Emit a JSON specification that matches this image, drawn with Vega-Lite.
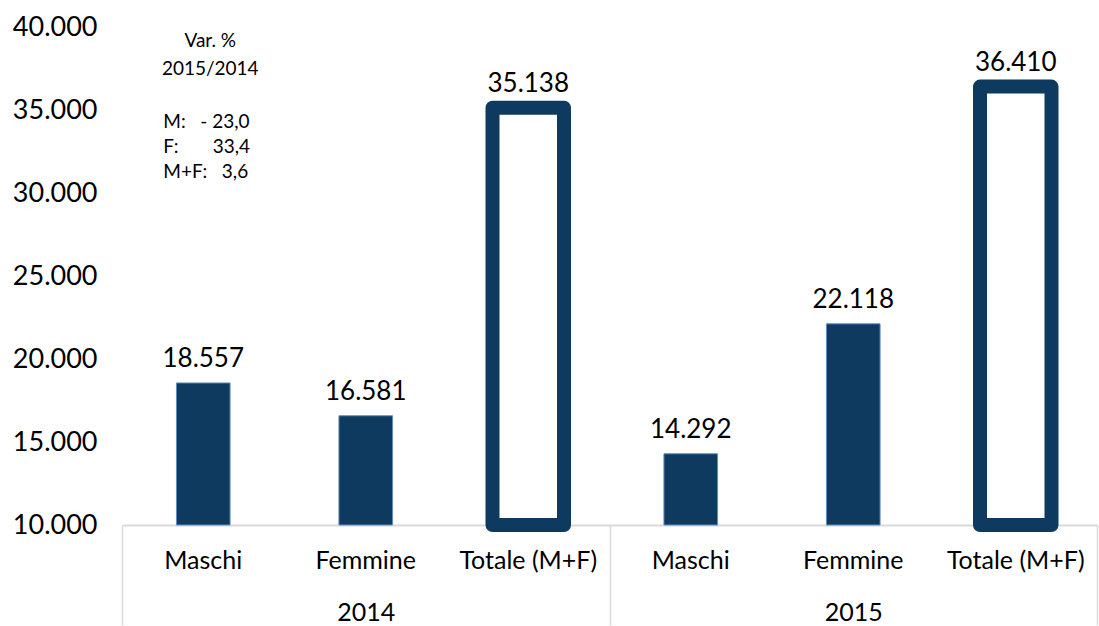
{
  "$schema": "https://vega.github.io/schema/vega-lite/v6.json",
  "width": 975,
  "height": 498,
  "autosize": "none",
  "padding": {"left": 122, "top": 27, "right": 2, "bottom": 101},
  "background": "white",
  "config": {
    "view": {"stroke": null},
    "font": "Lato",
    "text": {"font": "Lato", "color": "black"}
  },
  "data": {
    "values": [
      {"year": "2014", "cat": "Maschi", "value": 18557},
      {"year": "2014", "cat": "Femmine", "value": 16581},
      {"year": "2014", "cat": "Totale (M+F)", "value": 35138},
      {"year": "2015", "cat": "Maschi", "value": 14292},
      {"year": "2015", "cat": "Femmine", "value": 22118},
      {"year": "2015", "cat": "Totale (M+F)", "value": 36410}
    ]
  },
  "transform": [
    {"calculate": "datum.year + '|' + datum.cat", "as": "key"},
    {"calculate": "replace(format(datum.value, ','), ',', '.')", "as": "label"}
  ],
  "resolve": {"scale": {"x": "independent"}, "axis": {"x": "independent"}},
  "layer": [
    {
      "encoding": {
        "x": {
          "field": "key",
          "type": "nominal",
          "scale": {
            "domain": ["2014|Maschi", "2014|Femmine", "2014|Totale (M+F)", "2015|Maschi", "2015|Femmine", "2015|Totale (M+F)"],
            "paddingInner": 0,
            "paddingOuter": 0
          },
          "axis": {
            "title": null,
            "orient": "bottom",
            "labelExpr": "split(datum.value, '|')[1]",
            "labelAngle": 0,
            "ticks": false,
            "domain": true,
            "domainColor": "#d9d9d9",
            "domainWidth": 2,
            "labelPadding": 23,
            "labelFont": "Lato",
            "labelFontSize": 25,
            "labelColor": "black"
          }
        },
        "y": {
          "field": "value",
          "type": "quantitative",
          "scale": {"domain": [10000, 40000], "zero": false, "nice": false},
          "axis": {
            "title": null,
            "values": [10000, 15000, 20000, 25000, 30000, 35000, 40000],
            "labelExpr": "replace(format(datum.value, ','), ',', '.')",
            "domain": false,
            "ticks": false,
            "grid": false,
            "labelPadding": 25,
            "labelFont": "Lato",
            "labelFontSize": 27,
            "labelColor": "black"
          }
        }
      },
      "layer": [
        {
          "transform": [{"filter": "datum.cat == 'Maschi' || datum.cat == 'Femmine'"}],
          "mark": {"type": "bar", "width": {"band": 0.33}, "color": "#0d3a5e", "stroke": "#5d8ec4", "strokeWidth": 1},
          "encoding": {"y2": {"datum": 10000}}
        },
        {
          "transform": [{"filter": "datum.cat == 'Totale (M+F)'"}],
          "mark": {"type": "bar", "width": {"band": 0.44}, "fill": "white", "stroke": "#0d3a5e", "strokeWidth": 14, "strokeJoin": "round"},
          "encoding": {"y2": {"datum": 10000}}
        },
        {
          "transform": [{"filter": "isValid(datum.value)"}],
          "mark": {"type": "text", "baseline": "bottom", "dy": -11, "fontSize": 26},
          "encoding": {"text": {"field": "label"}}
        },
        {
          "data": {"values": [{"year": "2014", "cat": "Maschi", "key": "2014|Maschi", "pos": 40000}]},
          "mark": {"type": "text", "baseline": "top", "align": "center", "dx": 7, "dy": 5, "lineHeight": 28, "fontSize": 19, "text": ["Var. %", "2015/2014"]},
          "encoding": {
            "x": {"field": "key", "type": "nominal"},
            "y": {"field": "pos", "type": "quantitative"}
          }
        },
        {
          "data": {"values": [{"year": "2014", "cat": "Maschi", "key": "2014|Maschi", "pos": 35000}]},
          "mark": {"type": "text", "baseline": "top", "align": "left", "dx": -40, "dy": 3, "lineHeight": 25, "fontSize": 19, "text": ["M:\u00a0\u00a0\u00a0-\u00a023,0", "F:\u00a0\u00a0\u00a0\u00a0\u00a0\u00a0\u00a033,4", "\u00a0M+F:\u00a0\u00a0\u00a03,6"]},
          "encoding": {
            "x": {"field": "key", "type": "nominal"},
            "y": {"field": "pos", "type": "quantitative"}
          }
        }
      ]
    },
    {
      "mark": {"type": "text", "text": ""},
      "encoding": {
        "x": {
          "field": "year",
          "type": "nominal",
          "scale": {"paddingInner": 0, "paddingOuter": 0},
          "axis": {
            "title": null,
            "orient": "bottom",
            "labelAngle": 0,
            "domain": false,
            "ticks": true,
            "tickBand": "extent",
            "tickSize": 100,
            "tickColor": "#d9d9d9",
            "tickWidth": 1.5,
            "labelPadding": -25,
            "labelFont": "Lato",
            "labelFontSize": 25,
            "labelColor": "black"
          }
        }
      }
    }
  ]
}
